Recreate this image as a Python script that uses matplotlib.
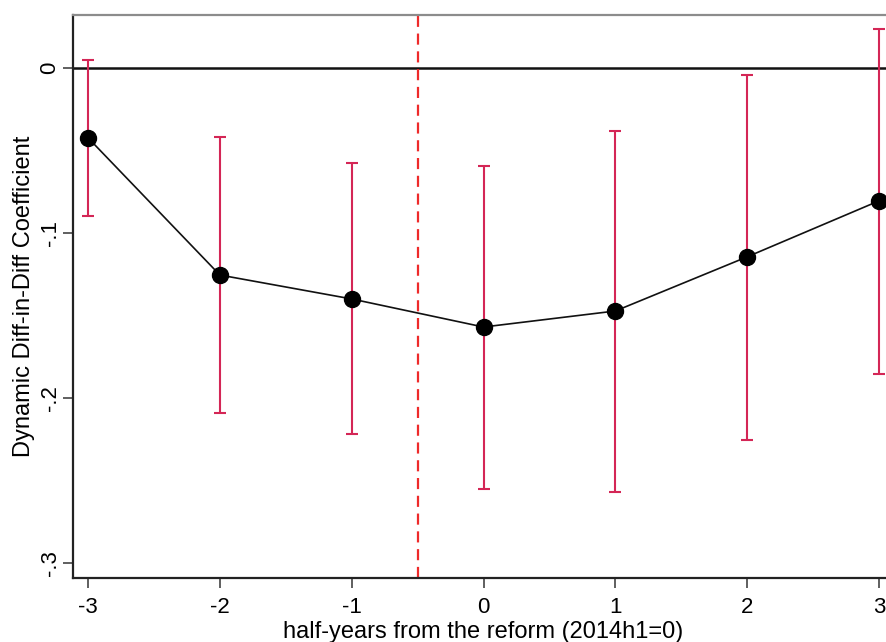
import matplotlib.pyplot as plt
import numpy as np

plt.rcParams['font.family'] = ['Liberation Sans', 'DejaVu Sans']

# Event-study estimates by half-year relative to the reform
periods = [-3, -2, -1, 0, 1, 2, 3]
coef = [-0.0424, -0.1255, -0.140, -0.157, -0.1473, -0.1145, -0.0806]
ci_low = [-0.0897, -0.209, -0.2218, -0.255, -0.257, -0.2255, -0.1855]
ci_high = [0.0048, -0.0418, -0.0576, -0.0594, -0.0382, -0.0042, 0.0236]

ytick_vals = [0, -0.1, -0.2, -0.3]
ytick_labels = ['0', '-.1', '-.2', '-.3']

coef = np.array(coef)
err = [coef - np.array(ci_low), np.array(ci_high) - coef]

fig = plt.figure(figsize=(8.87, 6.42), dpi=100)
ax = fig.add_axes([0.0823, 0.0997, 0.9256, 0.877])

ax.axhline(0, color='#111111', linewidth=1.8, zorder=1)
ax.axvline(-0.5, color='#ee2a2a', linewidth=1.6, linestyle=(0, (5, 3)), zorder=1)

ax.errorbar(periods, coef, yerr=err, fmt='none', ecolor='#d42656',
            elinewidth=1.5, capsize=4.3, capthick=1.5, zorder=2)
ax.plot(periods, coef, color='#111111', linewidth=1.2, marker='o',
        markersize=11.5, markerfacecolor='black', markeredgecolor='black', zorder=3)

ax.set_xlim(-3.114, 3.114)
ax.set_ylim(-0.309, 0.032)
ax.set_xticks(periods)
ax.set_xticklabels([str(p) for p in periods])
ax.set_yticks(ytick_vals)
ax.set_yticklabels(ytick_labels, rotation=90, va='center')

ax.tick_params(axis='both', direction='out', length=7, width=1.2,
               labelsize=16, color='#444444')
ax.tick_params(axis='x', pad=7)
ax.tick_params(axis='y', pad=2)

for side in ['left', 'bottom']:
    ax.spines[side].set_color('#222222')
    ax.spines[side].set_linewidth(1.6)
ax.spines['top'].set_color('#8c8c8c')
ax.spines['top'].set_linewidth(1.6)
ax.spines['right'].set_visible(False)

ax.set_xlabel('half-years from the reform (2014h1=0)', fontsize=17, labelpad=2)
ax.set_ylabel('Dynamic Diff-in-Diff Coefficient', fontsize=17, labelpad=3)

fig.savefig('out.png', dpi=100)
